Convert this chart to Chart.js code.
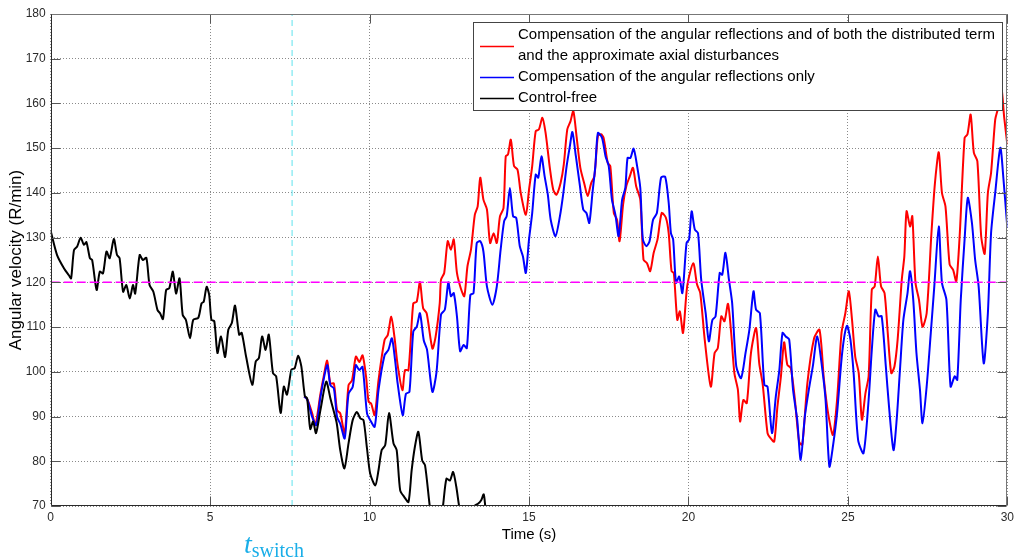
<!DOCTYPE html>
<html>
<head>
<meta charset="utf-8">
<script src="https://cdn.jsdelivr.net/npm/chart.js@4.4.0/dist/chart.umd.min.js"></script>
<style>
  body { margin: 0; background: #fff; }
  #wrap { position: relative; width: 1018px; height: 557px; }
  #tswitch { position: absolute; left: 244px; top: 530px; font-family: "Liberation Serif", "DejaVu Serif", serif; color: #1aaee8; white-space: nowrap; line-height: 28px; }
  #tswitch .t { font-style: italic; font-size: 28px; }
  #tswitch .sub { font-size: 20px; vertical-align: -4px; }
</style>
</head>
<body>
<div id="wrap">
  <canvas id="velChart"></canvas>
  <div id="tswitch"><span class="t">t</span><span class="sub">switch</span></div>
</div>
<script>
// values (time in s, velocity in R/min)
const blackT = [0, 0.2, 0.42, 0.57, 0.64, 0.73, 0.83, 0.94, 1.04, 1.12, 1.23, 1.3, 1.44, 1.54, 1.64, 1.75, 1.85, 1.98, 2.08, 2.16,
  2.27, 2.37, 2.48, 2.58, 2.65, 2.79, 2.89, 3.0, 3.1, 3.22, 3.35, 3.43, 3.52, 3.62, 3.72, 3.83, 3.93, 4.04, 4.14, 4.24,
  4.37, 4.47, 4.63, 4.73, 4.8, 4.89, 4.97, 5.04, 5.13, 5.23, 5.34, 5.47, 5.57, 5.68, 5.78, 5.91, 5.99, 6.13, 6.32, 6.43,
  6.53, 6.63, 6.74, 6.84, 6.97, 7.07, 7.21, 7.31, 7.41, 7.55, 7.65, 7.76, 7.86, 7.97, 8.04, 8.14, 8.23, 8.32, 8.46, 8.64,
  8.77, 8.85, 8.97, 9.08, 9.21, 9.34, 9.47, 9.6, 9.71, 9.81, 9.92, 10.02, 10.18, 10.28, 10.38, 10.49, 10.61, 10.75, 10.85, 10.96,
  11.09, 11.22, 11.32, 11.42, 11.53, 11.65, 11.74, 11.89, 12.0, 12.2, 12.31, 12.41, 12.52, 12.62, 12.72, 12.83, 13.0, 13.25, 13.3, 13.4,
  13.5, 13.58, 13.63, 13.7];
const blackV = [131.5, 126.1, 123.1, 121.6, 120.9, 127.2, 128, 130, 128.4, 129, 125.4, 125, 118.3, 122.4, 122, 126.9, 125.4, 129.7, 126.1, 125.4,
  117.9, 119.4, 116.4, 119.4, 117.5, 126.1, 125, 125.5, 119.4, 117.9, 113.8, 113.1, 111.8, 118.3, 118.7, 122.4, 117.5, 120.9, 112.7, 111.6,
  107.5, 111.6, 112.1, 115.3, 115.7, 119, 117.2, 111.6, 111.3, 104.2, 107.9, 103.3, 109.4, 110.9, 114.8, 108.3, 108.7, 103.3, 97.1, 102.3,
  103.1, 107.9, 104.9, 108.3, 99.7, 99, 90.8, 96.7, 94.9, 100.5, 100.8, 103.6, 101.2, 94.6, 94.1, 87.2, 88.9, 86.3, 91.5, 97.8,
  94.1, 91.9, 88.5, 82.5, 78.4, 84, 89.2, 91, 89.6, 89.2, 82.8, 77.2, 74.6, 78, 82.5, 83.6, 90.8, 84, 82.5, 73.5,
  72, 70.9, 78, 83.2, 86.6, 80.2, 79.1, 69.8, 65, 65, 70.5, 76.1, 75.7, 77.6, 74.3, 69, 64, 66, 70.1, 70.5,
  71.3, 72.6, 69.8, 66];

const redT = [7.95, 8.05, 8.2, 8.3, 8.46, 8.56, 8.67, 8.77, 8.88, 8.98, 9.08, 9.22, 9.34, 9.45, 9.57, 9.68, 9.78, 9.89, 9.97, 10.05,
  10.16, 10.28, 10.47, 10.57, 10.68, 10.78, 10.88, 11.03, 11.11, 11.22, 11.37, 11.48, 11.58, 11.68, 11.79, 11.97, 12.07, 12.2, 12.24, 12.34,
  12.45, 12.55, 12.64, 12.74, 12.86, 12.97, 13.07, 13.18, 13.3, 13.39, 13.47, 13.57, 13.68, 13.78, 13.89, 13.99, 14.09, 14.2, 14.27, 14.34,
  14.43, 14.53, 14.64, 14.74, 14.9, 15.0, 15.1, 15.21, 15.31, 15.42, 15.52, 15.66, 15.76, 15.86, 15.99, 16.09, 16.2, 16.3, 16.39, 16.49,
  16.61, 16.74, 16.84, 16.95, 17.05, 17.16, 17.26, 17.34, 17.47, 17.55, 17.66, 17.76, 17.84, 17.95, 18.05, 18.16, 18.26, 18.36, 18.49, 18.59,
  18.7, 18.8, 18.91, 19.03, 19.16, 19.29, 19.38, 19.47, 19.54, 19.65, 19.73, 19.83, 19.96, 20.15, 20.27, 20.37, 20.51, 20.7, 20.82, 20.92,
  21.03, 21.13, 21.24, 21.34, 21.44, 21.55, 21.62, 21.72, 21.83, 21.96, 22.12, 22.22, 22.33, 22.48, 22.58, 22.69, 22.79, 22.9, 23.0, 23.1,
  23.21, 23.34, 23.47, 23.57, 23.73, 23.94, 24.11, 24.25, 24.38, 24.53, 24.66, 24.8, 24.92, 25.03, 25.13, 25.23, 25.34, 25.44, 25.55, 25.65,
  25.75, 25.84, 25.94, 26.04, 26.15, 26.25, 26.36, 26.46, 26.56, 26.69, 26.77, 26.84, 26.95, 27.02, 27.12, 27.23, 27.34, 27.47, 27.62, 27.73,
  27.85, 27.95, 28.06, 28.19, 28.3, 28.4, 28.51, 28.66, 28.75, 28.85, 28.95, 29.06, 29.18, 29.29, 29.39, 29.49, 29.62, 29.7, 29.81, 29.9,
  30.0];
const redV = [94.5, 93.8, 90.7, 88.1, 95.1, 98.9, 102.5, 97.4, 97.4, 91.4, 90.7, 86.2, 97, 98.1, 103.4, 102.2, 103.7, 98.9, 93.3, 92.9,
  90.3, 98.1, 107.1, 108.2, 112.3, 107.8, 101.5, 95.9, 100.4, 100.4, 115.3, 115.7, 120.1, 114.2, 113.1, 105.2, 107.8, 115.3, 120.6, 122.1,
  129.2, 127.3, 129.6, 122.1, 118.7, 116.9, 123.6, 127.3, 135.1, 137, 143.4, 138.5, 136.3, 128.8, 131, 128.8, 134.8, 136.6, 148.2, 148.6,
  151.9, 146, 145.2, 140, 135.1, 140.7, 146, 153.8, 154.2, 156.8, 153.4, 145.2, 140.7, 139.6, 142.2, 146.3, 154.2, 156, 158.3, 152.7,
  145.6, 141.9, 139.3, 142.2, 143.7, 152.7, 153.1, 152.3, 146.7, 146, 135.5, 134, 129.2, 137.4, 141.5, 143.7, 145.6, 141.5, 138.5, 125.1,
  124.3, 122.5, 126.6, 129.6, 135.5, 134.5, 131, 122.5, 122.1, 111.6, 113.5, 108.7, 119.1, 124.3, 119.5, 117.6, 107.2, 96.7, 104.2, 105.3,
  112.4, 111.3, 115.2, 108.7, 99.7, 96, 88.9, 93.7, 93, 104.2, 109.8, 101.9, 97.1, 86.3, 85.1, 84.4, 92.2, 99, 106.6, 101.6,
  100.8, 93.7, 84.4, 83.7, 97.5, 107.5, 109.4, 98.2, 90.7, 85.9, 93.7, 108.7, 113.1, 118, 111.6, 103.4, 99.7, 89.3, 95.2, 99,
  118.4, 119.1, 125.8, 119.1, 117.6, 108.7, 99.7, 101.2, 107.2, 120.6, 125.8, 135.9, 132.5, 134.8, 119.9, 116.1, 110.1, 113.1, 131, 142.2,
  149.1, 140, 137, 124, 122.8, 120.2, 131, 152.3, 153.1, 157.5, 149, 147.1, 130.3, 126.4, 140, 144.5, 156.4, 158.7, 163.7, 157,
  150.8];

const blueT = [7.95, 8.05, 8.2, 8.33, 8.46, 8.67, 8.77, 8.88, 8.98, 9.08, 9.22, 9.34, 9.47, 9.57, 9.68, 9.78, 9.92, 10.02, 10.16, 10.28,
  10.47, 10.59, 10.7, 10.8, 10.88, 11.04, 11.14, 11.25, 11.37, 11.48, 11.58, 11.7, 11.8, 11.97, 12.1, 12.24, 12.36, 12.47, 12.55, 12.64,
  12.74, 12.84, 12.95, 13.05, 13.16, 13.26, 13.36, 13.47, 13.57, 13.68, 13.85, 13.99, 14.11, 14.22, 14.3, 14.4, 14.5, 14.6, 14.71, 14.81,
  14.9, 15.0, 15.1, 15.21, 15.29, 15.39, 15.49, 15.59, 15.68, 15.83, 15.97, 16.07, 16.18, 16.28, 16.36, 16.47, 16.59, 16.7, 16.8, 16.89,
  16.99, 17.08, 17.16, 17.29, 17.4, 17.5, 17.6, 17.71, 17.81, 17.92, 18.02, 18.09, 18.18, 18.28, 18.39, 18.49, 18.57, 18.68, 18.78, 18.89,
  19.01, 19.14, 19.27, 19.38, 19.45, 19.52, 19.61, 19.71, 19.81, 19.94, 20.02, 20.1, 20.2, 20.3, 20.4, 20.54, 20.64, 20.75, 20.85, 20.98,
  21.06, 21.16, 21.27, 21.37, 21.5, 21.65, 21.79, 21.91, 22.04, 22.12, 22.24, 22.38, 22.48, 22.62, 22.74, 22.85, 22.95, 23.05, 23.16, 23.28,
  23.41, 23.52, 23.65, 23.8, 23.9, 24.04, 24.2, 24.3, 24.42, 24.53, 24.66, 24.82, 24.97, 25.08, 25.18, 25.32, 25.49, 25.65, 25.75, 25.86,
  25.96, 26.06, 26.19, 26.29, 26.43, 26.53, 26.64, 26.74, 26.87, 26.95, 27.05, 27.15, 27.26, 27.34, 27.47, 27.6, 27.71, 27.85, 27.95, 28.09,
  28.22, 28.35, 28.43, 28.54, 28.66, 28.76, 28.89, 28.99, 29.1, 29.26, 29.39, 29.49, 29.62, 29.78, 29.88, 30.0];
const blueV = [94.5, 93.8, 89.9, 88.1, 94.4, 101.5, 97, 96.3, 89.9, 88.4, 85.1, 95.1, 96.6, 101.5, 100.4, 101.1, 90.7, 89.2, 87.7, 95.9,
  103.7, 104.9, 107.5, 102.6, 97.4, 90.3, 95.1, 95.5, 109, 110.1, 113.1, 107, 105, 95.5, 100, 112.8, 113.9, 120, 116.9, 117.6,
  112.4, 104.6, 106, 105.3, 117.2, 117.6, 128.8, 129.2, 126.9, 119.1, 115, 119.1, 127.3, 133.7, 134.8, 141.1, 134.8, 134.4, 128.1, 125.8,
  122.1, 129.6, 135.5, 144.1, 143.4, 148.2, 143.7, 139.6, 134, 130.3, 134.8, 139.6, 146, 150.4, 153.6, 148.2, 141.9, 136.3, 135.5, 133.3,
  140, 146, 153.4, 152.3, 148.2, 146, 138.5, 135.1, 130.3, 138.5, 141.1, 147.8, 147.8, 149.9, 146, 141.1, 129.6, 128.1, 129.2, 134,
  135.5, 143.4, 143.6, 137.8, 131, 129.6, 119.9, 121.3, 117.6, 128.8, 129.6, 135.9, 131.8, 131, 120.6, 113.1, 106.8, 111.6, 112.4, 122.1,
  121.7, 126.6, 120.6, 115.4, 101.2, 98.6, 104.2, 109.4, 118, 113.9, 113.1, 97.1, 96.7, 86.3, 94.5, 100.4, 108.7, 107.9, 107.2, 96,
  89.3, 80.3, 90, 97.1, 101.2, 107.9, 100.4, 93.7, 78.8, 83.3, 90.7, 104.2, 110.3, 107.2, 99.7, 84.8, 81.8, 93.7, 104.9, 113.9,
  112.4, 112.4, 101.2, 92.2, 82.5, 89.3, 101.2, 111.6, 117.6, 122.5, 116.1, 104.2, 96, 88.5, 96.7, 108.7, 119.1, 132.5, 119.9, 116.1,
  96.7, 99, 98.2, 116.1, 129.6, 138.9, 133.3, 125.1, 119.1, 101.9, 113.1, 131, 140, 150.1, 143, 132.2];

const refLevel = 120;      // magenta dashed line
const tSwitch = 7.57;      // cyan dashed line
const xTicks = [0, 5, 10, 15, 20, 25, 30];
const yTicks = [70, 80, 90, 100, 110, 120, 130, 140, 150, 160, 170, 180];

const legendLabels = [
  ['Compensation of the angular reflections and of both the distributed term', 'and the approximate axial disturbances'],
  ['Compensation of the angular reflections only'],
  ['Control-free']
];
const seriesColors = ['#ff0000', '#0000ff', '#000000'];

function toPoints(ts, vs) {
  return ts.map((t, i) => ({ x: t, y: vs[i] }));
}

// frame with inward ticks (matlab box), then the legend box on top
const framePlugin = {
  id: 'framePlugin',
  afterDraw(chart) {
    const ctx = chart.ctx;
    const a = chart.chartArea;
    const xs = chart.scales.x;
    const ys = chart.scales.y;
    const L = Math.round(a.left) + 0.5, R = Math.round(a.right) - 0.5;
    const T = Math.round(a.top) + 0.5, B = Math.round(a.bottom) - 0.5;
    ctx.save();
    ctx.lineWidth = 1;

    ctx.strokeStyle = '#555';
    xTicks.forEach(v => {
      const px = Math.round(xs.getPixelForValue(v)) + 0.5;
      ctx.beginPath();
      ctx.moveTo(px, B); ctx.lineTo(px, B - 9);
      ctx.moveTo(px, T); ctx.lineTo(px, T + 9);
      ctx.stroke();
    });
    yTicks.forEach(v => {
      const py = Math.round(ys.getPixelForValue(v)) + 0.5;
      ctx.beginPath();
      ctx.moveTo(L, py); ctx.lineTo(L + 9, py);
      ctx.moveTo(R, py); ctx.lineTo(R - 9, py);
      ctx.stroke();
    });

    ctx.strokeStyle = '#777';
    ctx.beginPath();
    ctx.moveTo(L, T); ctx.lineTo(R, T); ctx.lineTo(R, B);
    ctx.stroke();
    ctx.strokeStyle = '#2a2a2a';
    ctx.beginPath();
    ctx.moveTo(L, T); ctx.lineTo(L, B); ctx.lineTo(R, B);
    ctx.stroke();

    // legend
    const bx = 473.5, by = 22.5, bw = 529, bh = 88;
    ctx.fillStyle = '#fff';
    ctx.fillRect(bx, by, bw, bh);
    ctx.strokeStyle = '#444';
    ctx.strokeRect(bx, by, bw, bh);
    ctx.font = '15px "Liberation Sans", Arial, sans-serif';
    ctx.textBaseline = 'middle';
    ctx.fillStyle = '#000';
    let y = 35;
    legendLabels.forEach((lines, i) => {
      const sy = Math.round(y + (lines.length - 1) * 10.5) + 0.5;
      ctx.strokeStyle = seriesColors[i];
      ctx.lineWidth = 1.5;
      ctx.beginPath();
      ctx.moveTo(480, sy); ctx.lineTo(514, sy);
      ctx.stroke();
      lines.forEach(line => {
        ctx.fillText(line, 518, y);
        y += 21;
      });
    });
    ctx.restore();
  }
};

const ctx = document.getElementById('velChart').getContext('2d');
new Chart(ctx, {
  type: 'line',
  data: {
    datasets: [
      {
        label: 'ref',
        data: [{ x: 0, y: refLevel }, { x: 30, y: refLevel }],
        borderColor: '#ff00ff',
        borderWidth: 1.5,
        borderDash: [9, 4],
        tension: 0
      },
      {
        label: 'switch',
        data: [{ x: tSwitch, y: 70 }, { x: tSwitch, y: 180 }],
        borderColor: '#5fe3ee',
        borderWidth: 1,
        borderDash: [6, 4],
        tension: 0
      },
      {
        label: legendLabels[2][0],
        data: toPoints(blackT, blackV),
        borderColor: seriesColors[2],
        borderWidth: 2,
        tension: 0.25
      },
      {
        label: legendLabels[1][0],
        data: toPoints(blueT, blueV),
        borderColor: seriesColors[1],
        borderWidth: 2,
        tension: 0.25
      },
      {
        label: legendLabels[0].join(' '),
        data: toPoints(redT, redV),
        borderColor: seriesColors[0],
        borderWidth: 2,
        tension: 0.25
      }
    ]
  },
  options: {
    responsive: true,
    maintainAspectRatio: false,
    animation: false,
    parsing: false,
    elements: { point: { radius: 0 } },
    layout: { padding: { top: 14, right: 6, left: 0, bottom: 0 } },
    plugins: {
      legend: { display: false },
      tooltip: { enabled: false }
    },
    scales: {
      x: {
        type: 'linear',
        min: 0,
        max: 30,
        afterBuildTicks: s => { s.ticks = xTicks.map(v => ({ value: v })); },
        afterFit: s => { s.height = 51; },
        ticks: { color: '#2b2b2b', font: { size: 12, family: '"Liberation Sans", Arial, sans-serif' }, padding: 4, maxRotation: 0 },
        grid: { color: '#8a8a8a', lineWidth: 1, drawTicks: false },
        border: { display: false, dash: [1, 2] },
        title: { display: true, text: 'Time (s)', color: '#000', font: { size: 15, family: '"Liberation Sans", Arial, sans-serif' }, padding: { top: 0, bottom: 13 } }
      },
      y: {
        min: 70,
        max: 180,
        afterBuildTicks: s => { s.ticks = yTicks.map(v => ({ value: v })); },
        afterFit: s => { s.width = 50.7; },
        ticks: { color: '#2b2b2b', font: { size: 12, family: '"Liberation Sans", Arial, sans-serif' }, padding: 5 },
        grid: { color: '#8a8a8a', lineWidth: 1, drawTicks: false },
        border: { display: false, dash: [1, 2] },
        title: { display: true, text: 'Angular velocity (R/min)', color: '#000', font: { size: 17, family: '"Liberation Sans", Arial, sans-serif' }, padding: { top: 6, bottom: 0 } }
      }
    }
  },
  plugins: [framePlugin]
});
</script>
</body>
</html>
